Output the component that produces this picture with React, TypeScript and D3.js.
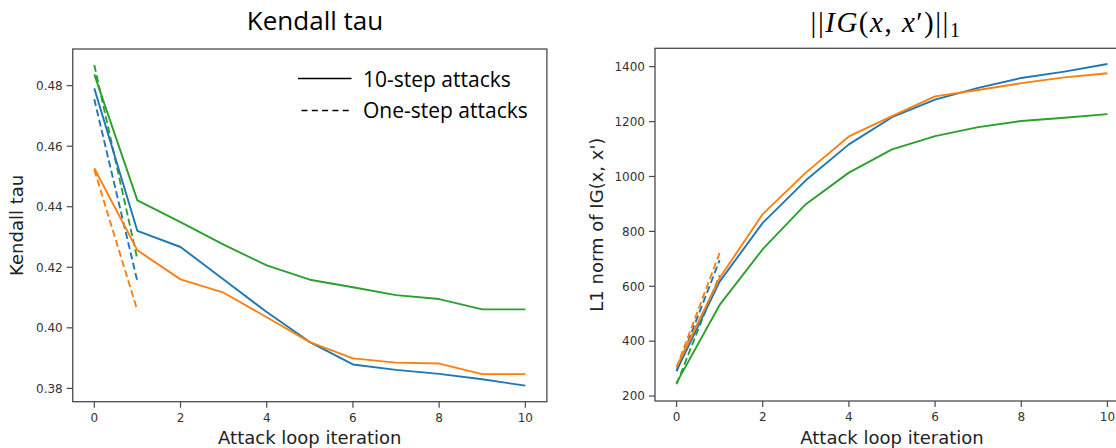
import React from "react";
import * as d3 from "d3";

// ---------- data ----------
const iterations = [0, 1, 2, 3, 4, 5, 6, 7, 8, 9, 10];
const oneStepIterations = [0, 1];

const kendallTenBlue = [0.4791, 0.432, 0.4267, 0.416, 0.4052, 0.3953, 0.3879, 0.3861, 0.3848, 0.383, 0.3809];
const kendallTenOrange = [0.4527, 0.4256, 0.416, 0.4116, 0.4035, 0.3953, 0.3899, 0.3885, 0.3882, 0.3847, 0.3847];
const kendallTenGreen = [0.4837, 0.4421, 0.4349, 0.4275, 0.4206, 0.4159, 0.4134, 0.4108, 0.4095, 0.4061, 0.4061];
const kendallOneBlue = [0.4755, 0.4153];
const kendallOneOrange = [0.4522, 0.4057];
const kendallOneGreen = [0.4868, 0.4226];

const igTenBlue = [292, 617, 831, 986, 1117, 1216, 1280, 1323, 1359, 1382, 1410];
const igTenOrange = [306, 630, 863, 1014, 1146, 1220, 1292, 1315, 1340, 1361, 1376];
const igTenGreen = [248, 532, 735, 899, 1014, 1099, 1147, 1180, 1202, 1214, 1227];
const igOneBlue = [291, 695];
const igOneOrange = [304, 722];
const igOneGreen = [243, 640];

const xTicks = [0, 2, 4, 6, 8, 10];
const kendallTicks = [0.38, 0.4, 0.42, 0.44, 0.46, 0.48];
const igTicks = [200, 400, 600, 800, 1000, 1200, 1400];

const seriesColors = ["#1f77b4", "#ff7f0e", "#2ca02c"];
const legendLabels = ["10-step attacks", "One-step attacks"];

const TICK_FONT = "'DejaVu Sans', sans-serif";
const UI_FONT = "'Open Sans', sans-serif";

type PanelProps = {
  x0: number;
  x1: number;
  y0: number;
  y1: number;
  yDomain: [number, number];
  yTicks: number[];
  yFmt: (v: number) => string;
  ten: number[][];
  one: number[][];
  yLabel: string;
  yLabelX: number;
};

function Panel(p: PanelProps) {
  const x = d3.scaleLinear().domain([-0.5, 10.5]).range([p.x0, p.x1]);
  const y = d3.scaleLinear().domain(p.yDomain).range([p.y1, p.y0]);
  const lineTen = d3
    .line<number>()
    .x((_, i) => x(iterations[i]))
    .y((d) => y(d));
  const lineOne = d3
    .line<number>()
    .x((_, i) => x(oneStepIterations[i]))
    .y((d) => y(d));
  const midX = (p.x0 + p.x1) / 2;
  const midY = (p.y0 + p.y1) / 2;
  return (
    <g>
      <defs>
        <clipPath id={`clip-${Math.round(p.x0)}`}>
          <rect x={p.x0} y={p.y0} width={p.x1 - p.x0} height={p.y1 - p.y0} />
        </clipPath>
      </defs>
      <g clipPath={`url(#clip-${Math.round(p.x0)})`} fill="none" strokeWidth={1.9} strokeLinejoin="round">
        {p.one.map((s, i) => (
          <path key={"o" + i} d={lineOne(s) || ""} stroke={seriesColors[i]} strokeDasharray="7,3.5" />
        ))}
        {p.ten.map((s, i) => (
          <path key={"t" + i} d={lineTen(s) || ""} stroke={seriesColors[i]} />
        ))}
      </g>
      <rect x={p.x0} y={p.y0} width={p.x1 - p.x0} height={p.y1 - p.y0} fill="none" stroke="#4a4a4a" strokeWidth={1.3} />
      {xTicks.map((t) => (
        <g key={"xt" + t}>
          <line x1={x(t)} x2={x(t)} y1={p.y1} y2={p.y1 + 6} stroke="#4a4a4a" strokeWidth={1.2} />
          <text x={x(t)} y={p.y1 + 20} textAnchor="middle" fontFamily={TICK_FONT} fontSize={12} fill="#333">
            {t}
          </text>
        </g>
      ))}
      {p.yTicks.map((t) => (
        <g key={"yt" + t}>
          <line x1={p.x0 - 6} x2={p.x0} y1={y(t)} y2={y(t)} stroke="#4a4a4a" strokeWidth={1.2} />
          <text x={p.x0 - 10} y={y(t)} dy="0.36em" textAnchor="end" fontFamily={TICK_FONT} fontSize={12} fill="#333">
            {p.yFmt(t)}
          </text>
        </g>
      ))}
      <text x={midX} y={444} textAnchor="middle" fontFamily={TICK_FONT} fontSize={18} fill="#222">
        Attack loop iteration
      </text>
      <text
        transform={`translate(${p.yLabelX},${midY}) rotate(-90)`}
        textAnchor="middle"
        dy="0.36em"
        fontFamily={TICK_FONT}
        fontSize={18}
        fill="#222"
      >
        {p.yLabel}
      </text>
    </g>
  );
}

export default function App() {
  return (
    <svg
      width={1116}
      height={448}
      style={{ position: "absolute", left: 0, top: 0, background: "#fff" }}
    >
      <rect width={1116} height={448} fill="#fff" />
      <Panel
        x0={72.75}
        x1={546.9}
        y0={49}
        y1={401.7}
        yDomain={[0.3756, 0.4921]}
        yTicks={kendallTicks}
        yFmt={(v) => v.toFixed(2)}
        ten={[kendallTenBlue, kendallTenOrange, kendallTenGreen]}
        one={[kendallOneBlue, kendallOneOrange, kendallOneGreen]}
        yLabel="Kendall tau"
        yLabelX={17}
      />
      <Panel
        x0={655}
        x1={1129}
        y0={48.3}
        y1={401}
        yDomain={[182, 1467]}
        yTicks={igTicks}
        yFmt={(v) => String(v)}
        ten={[igTenBlue, igTenOrange, igTenGreen]}
        one={[igOneBlue, igOneOrange, igOneGreen]}
        yLabel="L1 norm of IG(x, x')"
        yLabelX={597}
      />
      {/* titles */}
      <text x={315} y={30} textAnchor="middle" fontFamily={UI_FONT} fontSize={26} fill="#000">
        Kendall tau
      </text>
      <text
        x={886}
        y={31.5}
        textAnchor="middle"
        fontFamily="'Liberation Serif', serif"
        fontSize={29}
        letterSpacing={1.5}
        fill="#000"
      >
        <tspan>||</tspan>
        <tspan fontStyle="italic">IG</tspan>
        <tspan>(</tspan>
        <tspan fontStyle="italic">x</tspan>
        <tspan>, </tspan>
        <tspan fontStyle="italic">x</tspan>
        <tspan>′)||</tspan>
        <tspan fontSize={20} dy={5}>1</tspan>
      </text>
      {/* legend */}
      <g>
        <line x1={298} x2={351.5} y1={78.5} y2={78.5} stroke="#000" strokeWidth={1.5} />
        <line x1={301.5} x2={353} y1={110.5} y2={110.5} stroke="#000" strokeWidth={1.5} strokeDasharray="6,4.3" />
        <text x={363} y={87} fontFamily={UI_FONT} fontSize={21} fill="#000">
          {legendLabels[0]}
        </text>
        <text x={363} y={117.5} fontFamily={UI_FONT} fontSize={21} fill="#000">
          {legendLabels[1]}
        </text>
      </g>
    </svg>
  );
}
